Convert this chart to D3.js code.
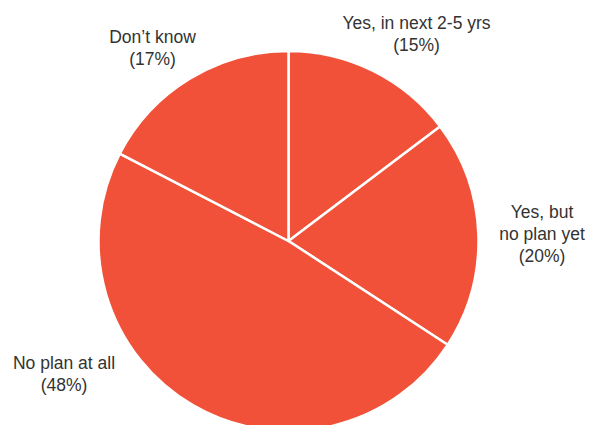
<!DOCTYPE html>
<html>
<head>
<meta charset="utf-8">
<script src="https://cdn.jsdelivr.net/npm/d3@7"></script>
<style>
  html, body { margin: 0; padding: 0; background: #fff; }
  svg { display: block; }
</style>
</head>
<body>
<div id="chart"></div>
<script>
const width = 590;
const height = 425;

const categories = ["Yes, in next 2-5 yrs", "Yes, but no plan yet", "No plan at all", "Don\u2019t know"];
const values = [14.7, 19.5, 48.4, 17.4];
const shownPct = [15, 20, 48, 17];
// label lines (as shown on the chart)
const labelLines = [
    ["Yes, in next 2-5 yrs"],
    ["Yes, but", "no plan yet"],
    ["No plan at all"],
    ["Don\u2019t know"]
];

// layout: first baseline of each label block, relative to pie centre
const labelOffsets = [[128, -212], [253.5, -23], [-224.5, 128], [-136, -198]];

const cx = 288.5, cy = 241, radius = 190;

const svg = d3.select("#chart")
    .append("svg")
    .attr("width", width)
    .attr("height", height);

const g = svg.append("g")
    .attr("transform", `translate(${cx},${cy})`);

const pie = d3.pie().sort(null).value(d => d);
const arc = d3.arc().innerRadius(0).outerRadius(radius);

const arcs = pie(values);

g.selectAll("path")
    .data(arcs)
    .enter()
    .append("path")
    .attr("d", arc)
    .attr("fill", "#f05138")
    .attr("stroke", "#fff")
    .attr("stroke-width", 2.5)
    .attr("stroke-linejoin", "round");

// labels
const lineH = 22;
g.selectAll(".label")
    .data(arcs)
    .enter()
    .append("text")
    .attr("class", "label")
    .attr("text-anchor", "middle")
    .attr("fill", "#333")
    .style("font-family", "'Liberation Sans', Arial, sans-serif")
    .style("font-size", "17.5px")
    .each(function(d, i) {
        const t = d3.select(this);
        const lines = labelLines[i].concat([`(${shownPct[i]}%)`]);
        const [ox, oy] = labelOffsets[i];
        lines.forEach((ln, j) => {
            t.append("tspan")
                .attr("x", ox)
                .attr("y", oy + j * lineH)
                .text(ln);
        });
    });
</script>
</body>
</html>
